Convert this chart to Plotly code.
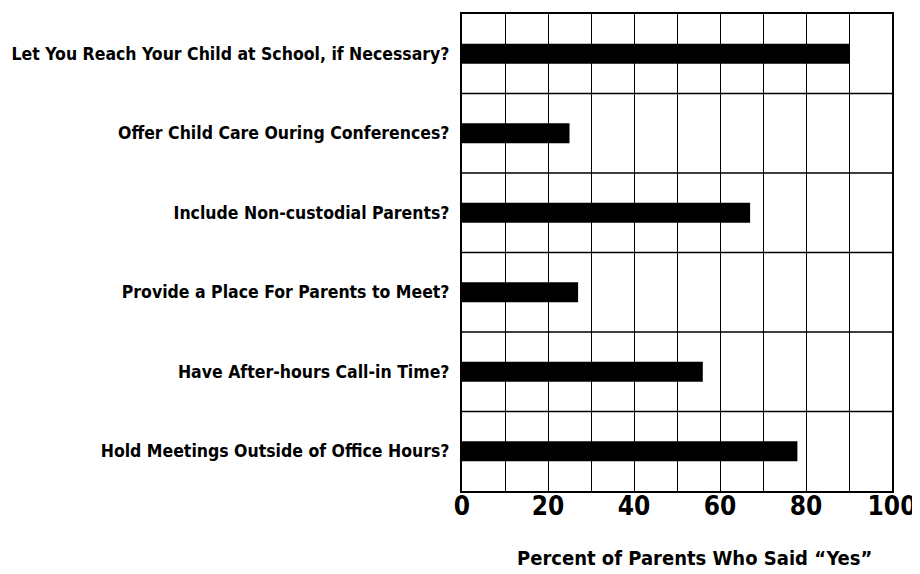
import plotly.graph_objects as go

questions = [
    "Let You Reach Your Child at School, if Necessary?",
    "Offer Child Care Ouring Conferences?",
    "Include Non-custodial Parents?",
    "Provide a Place For Parents to Meet?",
    "Have After-hours Call-in Time?",
    "Hold Meetings Outside of Office Hours?",
]
pct_yes = [90, 25, 67, 27, 56, 78]
x_ticks = [0, 20, 40, 60, 80, 100]

FONT = "DejaVu Sans Condensed, Liberation Sans, sans-serif"

fig = go.Figure()
fig.add_trace(go.Bar(
    x=pct_yes, y=questions, orientation="h",
    marker=dict(color="black", line=dict(width=0)),
    width=0.25,
))

# horizontal separators between the question rows
for i in range(len(questions) - 1):
    fig.add_hline(y=i + 0.5, line=dict(color="black", width=1.3), layer="below")

# page body adds 8px, so the figure is a little smaller than the window
fig.update_layout(
    width=912, height=566,
    margin=dict(l=454, r=28, t=4, b=83),
    paper_bgcolor="white", plot_bgcolor="white",
    showlegend=False,
    font=dict(family=FONT, color="black"),
    xaxis=dict(
        range=[0, 100], tickvals=x_ticks, dtick=10,
        tickfont=dict(family=FONT, size=26, weight="bold"),
        showgrid=False,
        minor=dict(dtick=10, showgrid=True, gridcolor="black", gridwidth=1.4),
        showline=True, linecolor="black", linewidth=2, mirror=True,
        ticks="", zeroline=False, ticklabelstandoff=-9,
    ),
    yaxis=dict(
        categoryorder="array", categoryarray=questions, autorange="reversed",
        tickfont=dict(family=FONT, size=17.5, weight="bold"),
        showgrid=False,
        showline=True, linecolor="black", linewidth=2, mirror=True,
        ticks="", ticklabelstandoff=7,
    ),
    annotations=[dict(
        text="Percent of Parents Who Said \u201cYes\u201d",
        xref="paper", yref="paper", x=0.54, y=-0.112,
        xanchor="center", yanchor="top", showarrow=False,
        font=dict(family=FONT, size=20, weight="bold"),
    )],
)

fig.write_html("out.html")
